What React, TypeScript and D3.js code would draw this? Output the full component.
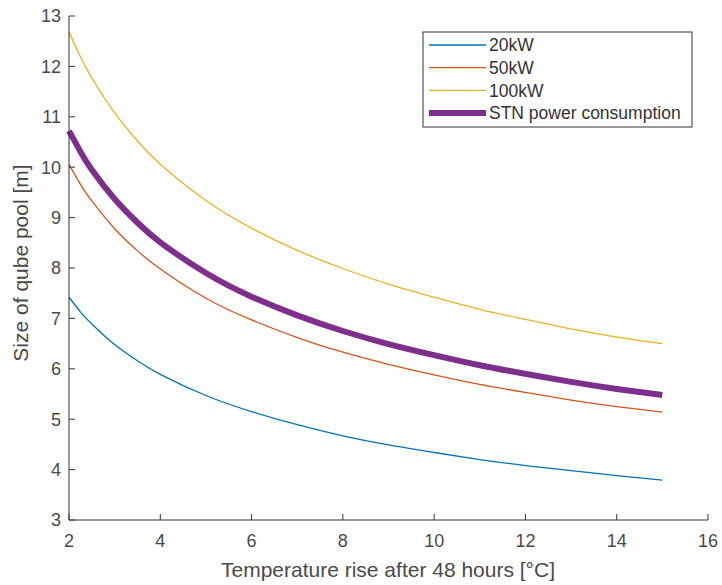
import React from 'react';
import * as d3 from 'd3';

// temperature rise [°C]
const TEMPS = [2, 2.25, 2.5, 3, 3.5, 4, 5, 6, 7, 8, 9, 10, 11, 12, 13, 14, 15];

// pool size [m]
const SIZE_20KW = [7.42, 7.13, 6.89, 6.48, 6.16, 5.89, 5.47, 5.15, 4.89, 4.67, 4.49, 4.34, 4.20, 4.08, 3.98, 3.88, 3.79];
const SIZE_50KW = [10.05, 9.66, 9.33, 8.78, 8.34, 7.98, 7.40, 6.97, 6.62, 6.33, 6.09, 5.88, 5.69, 5.53, 5.38, 5.25, 5.14];
const SIZE_100KW = [12.68, 12.19, 11.77, 11.08, 10.52, 10.06, 9.34, 8.79, 8.35, 7.99, 7.68, 7.42, 7.18, 6.98, 6.79, 6.63, 6.50];
const SIZE_STN = [10.72, 10.31, 9.95, 9.37, 8.90, 8.51, 7.90, 7.43, 7.06, 6.75, 6.49, 6.27, 6.07, 5.90, 5.74, 5.60, 5.48];

const X_TICKS = [2, 4, 6, 8, 10, 12, 14, 16];
const Y_TICKS = [3, 4, 5, 6, 7, 8, 9, 10, 11, 12, 13];

const SERIES = [
  { label: '20kW', values: SIZE_20KW, color: '#0072BD', width: 1.3 },
  { label: '50kW', values: SIZE_50KW, color: '#D95319', width: 1.3 },
  { label: '100kW', values: SIZE_100KW, color: '#EDB120', width: 1.3 },
  { label: 'STN power consumption', values: SIZE_STN, color: '#7E2F8E', width: 6 }
];

const FONT = '"Liberation Sans", Arial, sans-serif';
const TEXT = '#4a4a4a';

export default function App() {
  const W = 722, H = 585;
  const left = 69, right = 708, top = 16, bottom = 520;

  const x = d3.scaleLinear().domain([2, 16]).range([left, right]);
  const y = d3.scaleLinear().domain([3, 13]).range([bottom, top]);

  const line = d3.line<number>()
    .x((d, i) => x(TEMPS[i]))
    .y(d => y(d))
    .curve(d3.curveNatural);

  // legend box
  const lgX = 423, lgY = 32, lgW = 269, lgH = 95, rowH = 22.7;

  return (
    <svg width={W} height={H} style={{ position: 'absolute', left: 0, top: 0, background: '#fff' }}
      fontFamily={FONT}>
      <rect x={0} y={0} width={W} height={H} fill='#fff' />
      {SERIES.map(s => (
        <path key={s.label} d={line(s.values) || ''} fill='none' stroke={s.color}
          strokeWidth={s.width} strokeLinecap='butt' />
      ))}

      {/* axes */}
      <line x1={left} x2={left} y1={top} y2={bottom} stroke='#333' strokeWidth={1} />
      <line x1={left} x2={right} y1={bottom} y2={bottom} stroke='#333' strokeWidth={1} />
      {X_TICKS.map(t => (
        <g key={'x' + t}>
          <line x1={x(t)} x2={x(t)} y1={bottom} y2={bottom - 6} stroke='#333' />
          <text x={x(t)} y={547} textAnchor='middle' fontSize={18} fill={TEXT}>{t}</text>
        </g>
      ))}
      {Y_TICKS.map(t => (
        <g key={'y' + t}>
          <line x1={left} x2={left + 6} y1={y(t)} y2={y(t)} stroke='#333' />
          <text x={61} y={y(t)} dy='0.35em' textAnchor='end' fontSize={18} fill={TEXT}>{t}</text>
        </g>
      ))}

      <text x={388} y={577} textAnchor='middle' fontSize={21} fill={TEXT}>
        Temperature rise after 48 hours [°C]
      </text>
      <text transform={`translate(28,263) rotate(-90)`} textAnchor='middle' fontSize={21} fill={TEXT}>
        Size of qube pool [m]
      </text>

      {/* legend */}
      <rect x={lgX} y={lgY} width={lgW} height={lgH} fill='#fff' stroke='#333' strokeWidth={1} />
      {SERIES.map((s, i) => {
        const cy = lgY + 13 + i * rowH;
        return (
          <g key={'lg' + s.label}>
            <line x1={lgX + 6} x2={lgX + 63} y1={cy} y2={cy} stroke={s.color}
              strokeWidth={s.width} />
            <text x={lgX + 66} y={cy} dy='0.36em' fontSize={17.5} fill='#333'>{s.label}</text>
          </g>
        );
      })}
    </svg>
  );
}
